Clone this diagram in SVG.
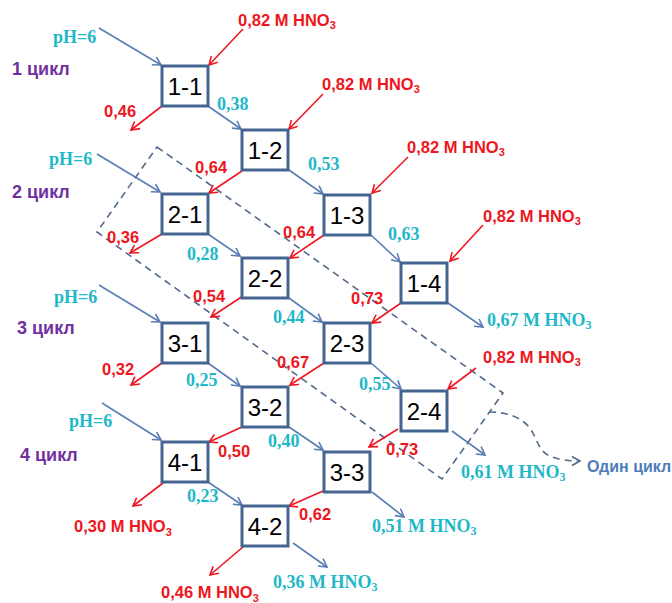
<svg xmlns="http://www.w3.org/2000/svg" width="672" height="603" viewBox="0 0 672 603">
<defs>
<style>
.box{fill:#ffffff;stroke:#45648f;stroke-width:3}
.bt{font-family:"Liberation Sans",Arial,sans-serif;font-size:24px;fill:#000;text-anchor:middle}
.b{fill:none;stroke:#5a7db4;stroke-width:1.6}
.r{fill:none;stroke:#f01622;stroke-width:1.6}
.d{fill:none;stroke:#52698a;stroke-width:1.6;stroke-dasharray:7,5}
.rt{font-family:"Liberation Sans",Arial,sans-serif;font-weight:bold;font-size:16.5px;fill:#ee1620}
.ct{font-family:"Liberation Serif","Times New Roman",serif;font-weight:bold;font-size:18px;fill:#1fb8c9}
.pt{font-family:"Liberation Sans",Arial,sans-serif;font-weight:bold;font-size:18px;fill:#7030a0}
.ot{font-family:"Liberation Sans",Arial,sans-serif;font-weight:bold;font-size:16px;fill:#4f7cb8}
</style>
<marker id="ab" markerUnits="userSpaceOnUse" markerWidth="12" markerHeight="12" refX="9" refY="5" orient="auto"><path d="M1,0.5 L9,5 L1,9.5" fill="none" stroke="#5a7db4" stroke-width="1.6"/></marker>
<marker id="ar" markerUnits="userSpaceOnUse" markerWidth="12" markerHeight="12" refX="9" refY="5" orient="auto"><path d="M1,0.5 L9,5 L1,9.5" fill="none" stroke="#f01622" stroke-width="1.6"/></marker>
<marker id="ad" markerUnits="userSpaceOnUse" markerWidth="12" markerHeight="12" refX="9" refY="5" orient="auto"><path d="M1,0.5 L9,5 L1,9.5" fill="none" stroke="#52698a" stroke-width="1.6"/></marker>
</defs>

<g id="cycle-frame">
<path class="d" d="M157,147 L503,393 L442,479 L97,232 Z"/>
<path class="d" d="M489,412 C505,412 520,416 530,428 C538,440 538,452 552,457 C560,460 570,461 580,461" marker-end="url(#ad)"/>
</g>

<g id="connectors">
<line class="b" x1="99" y1="28" x2="161" y2="65" marker-end="url(#ab)"/>
<line class="b" x1="208" y1="106" x2="241" y2="129" marker-end="url(#ab)"/>
<line class="b" x1="289" y1="170" x2="323" y2="194" marker-end="url(#ab)"/>
<line class="b" x1="371" y1="235" x2="400" y2="262" marker-end="url(#ab)"/>
<line class="b" x1="448" y1="303" x2="483" y2="327" marker-end="url(#ab)"/>
<line class="b" x1="97" y1="154" x2="160" y2="192" marker-end="url(#ab)"/>
<line class="b" x1="208" y1="234" x2="240" y2="256" marker-end="url(#ab)"/>
<line class="b" x1="289" y1="298" x2="322" y2="322" marker-end="url(#ab)"/>
<line class="b" x1="371" y1="363" x2="401" y2="389" marker-end="url(#ab)"/>
<line class="b" x1="452" y1="431" x2="485" y2="455" marker-end="url(#ab)"/>
<line class="b" x1="99" y1="285" x2="160" y2="322" marker-end="url(#ab)"/>
<line class="b" x1="208" y1="363" x2="240" y2="386" marker-end="url(#ab)"/>
<line class="b" x1="289" y1="427" x2="323" y2="450" marker-end="url(#ab)"/>
<line class="b" x1="372" y1="492" x2="404" y2="517" marker-end="url(#ab)"/>
<line class="b" x1="102" y1="403" x2="161" y2="440" marker-end="url(#ab)"/>
<line class="b" x1="208" y1="482" x2="242" y2="505" marker-end="url(#ab)"/>
<line class="b" x1="293" y1="543" x2="327" y2="567" marker-end="url(#ab)"/>
<line class="r" x1="243" y1="29" x2="209" y2="65" marker-end="url(#ar)"/>
<line class="r" x1="162" y1="106" x2="131" y2="130" marker-end="url(#ar)"/>
<line class="r" x1="323" y1="94" x2="289" y2="129" marker-end="url(#ar)"/>
<line class="r" x1="242" y1="171" x2="209" y2="193" marker-end="url(#ar)"/>
<line class="r" x1="408" y1="157" x2="372" y2="193" marker-end="url(#ar)"/>
<line class="r" x1="324" y1="235" x2="290" y2="258" marker-end="url(#ar)"/>
<line class="r" x1="483" y1="225" x2="450" y2="261" marker-end="url(#ar)"/>
<line class="r" x1="401" y1="303" x2="372" y2="323" marker-end="url(#ar)"/>
<line class="r" x1="162" y1="234" x2="130" y2="253" marker-end="url(#ar)"/>
<line class="r" x1="243" y1="296" x2="211" y2="317" marker-end="url(#ar)"/>
<line class="r" x1="324" y1="363" x2="290" y2="385" marker-end="url(#ar)"/>
<line class="r" x1="476" y1="368" x2="448" y2="389" marker-end="url(#ar)"/>
<line class="r" x1="398" y1="429" x2="369" y2="447" marker-end="url(#ar)"/>
<line class="r" x1="162" y1="363" x2="131" y2="385" marker-end="url(#ar)"/>
<line class="r" x1="242" y1="427" x2="209" y2="442" marker-end="url(#ar)"/>
<line class="r" x1="323" y1="491" x2="289" y2="506" marker-end="url(#ar)"/>
<line class="r" x1="163" y1="483" x2="133" y2="506" marker-end="url(#ar)"/>
<line class="r" x1="243" y1="547" x2="210" y2="575" marker-end="url(#ar)"/>
</g>

<g id="n1-1"><rect class="box" x="162" y="66" width="46" height="40"/><text class="bt" x="185" y="95">1-1</text></g>
<g id="n1-2"><rect class="box" x="242" y="130" width="46" height="40"/><text class="bt" x="265" y="159">1-2</text></g>
<g id="n1-3"><rect class="box" x="324" y="195" width="46" height="40"/><text class="bt" x="347" y="224">1-3</text></g>
<g id="n1-4"><rect class="box" x="401" y="263" width="46" height="40"/><text class="bt" x="424" y="292">1-4</text></g>
<g id="n2-1"><rect class="box" x="162" y="194" width="46" height="40"/><text class="bt" x="185" y="223">2-1</text></g>
<g id="n2-2"><rect class="box" x="242" y="258" width="46" height="40"/><text class="bt" x="265" y="287">2-2</text></g>
<g id="n2-3"><rect class="box" x="324" y="323" width="46" height="40"/><text class="bt" x="347" y="352">2-3</text></g>
<g id="n2-4"><rect class="box" x="401" y="391" width="46" height="40"/><text class="bt" x="424" y="420">2-4</text></g>
<g id="n3-1"><rect class="box" x="162" y="323" width="46" height="40"/><text class="bt" x="185" y="352">3-1</text></g>
<g id="n3-2"><rect class="box" x="242" y="387" width="46" height="40"/><text class="bt" x="265" y="416">3-2</text></g>
<g id="n3-3"><rect class="box" x="324" y="452" width="46" height="40"/><text class="bt" x="347" y="481">3-3</text></g>
<g id="n4-1"><rect class="box" x="162" y="442" width="46" height="40"/><text class="bt" x="185" y="471">4-1</text></g>
<g id="n4-2"><rect class="box" x="242" y="506" width="46" height="40"/><text class="bt" x="265" y="535">4-2</text></g>

<g id="labels">
<text class="pt" x="12" y="75">1 цикл</text>
<text class="pt" x="12" y="198">2 цикл</text>
<text class="pt" x="17" y="334">3 цикл</text>
<text class="pt" x="20" y="461">4 цикл</text>

<text class="ct" x="53" y="43">pH=6</text>
<text class="ct" x="49" y="165">pH=6</text>
<text class="ct" x="54" y="303">pH=6</text>
<text class="ct" x="69" y="427">pH=6</text>

<text class="rt" x="238" y="26">0,82 M HNO<tspan font-size="11" dy="3">3</tspan></text>
<text class="rt" x="322" y="90">0,82 M HNO<tspan font-size="11" dy="3">3</tspan></text>
<text class="rt" x="407" y="153">0,82 M HNO<tspan font-size="11" dy="3">3</tspan></text>
<text class="rt" x="483" y="222">0,82 M HNO<tspan font-size="11" dy="3">3</tspan></text>
<text class="rt" x="483" y="363">0,82 M HNO<tspan font-size="11" dy="3">3</tspan></text>

<text class="rt" x="104" y="117">0,46</text>
<text class="ct" x="217" y="110">0,38</text>
<text class="rt" x="195" y="173">0,64</text>
<text class="ct" x="308" y="170">0,53</text>
<text class="ct" x="388" y="240">0,63</text>
<text class="rt" x="107" y="243">0,36</text>
<text class="ct" x="187" y="260">0,28</text>
<text class="rt" x="283" y="238">0,64</text>
<text class="rt" x="193" y="302">0,54</text>
<text class="ct" x="273" y="323">0,44</text>
<text class="rt" x="351" y="304">0,73</text>
<text class="ct" x="487" y="326">0,67 M HNO<tspan font-size="12" dy="3">3</tspan></text>
<text class="ct" x="359" y="390">0,55</text>
<text class="rt" x="102" y="375">0,32</text>
<text class="rt" x="277" y="368">0,67</text>
<text class="ct" x="186" y="386">0,25</text>
<text class="rt" x="218" y="457">0,50</text>
<text class="ct" x="268" y="447">0,40</text>
<text class="rt" x="386" y="455">0,73</text>
<text class="ct" x="461" y="478">0,61 M HNO<tspan font-size="12" dy="3">3</tspan></text>
<text class="ot" x="587" y="472">Один цикл</text>
<text class="ct" x="187" y="502">0,23</text>
<text class="rt" x="74" y="532">0,30 M HNO<tspan font-size="11" dy="4">3</tspan></text>
<text class="rt" x="299" y="520">0,62</text>
<text class="ct" x="372" y="532">0,51 M HNO<tspan font-size="12" dy="3">3</tspan></text>
<text class="rt" x="161" y="598">0,46 M HNO<tspan font-size="11" dy="4">3</tspan></text>
<text class="ct" x="273" y="588">0,36 M HNO<tspan font-size="12" dy="3">3</tspan></text>
</g>
</svg>
